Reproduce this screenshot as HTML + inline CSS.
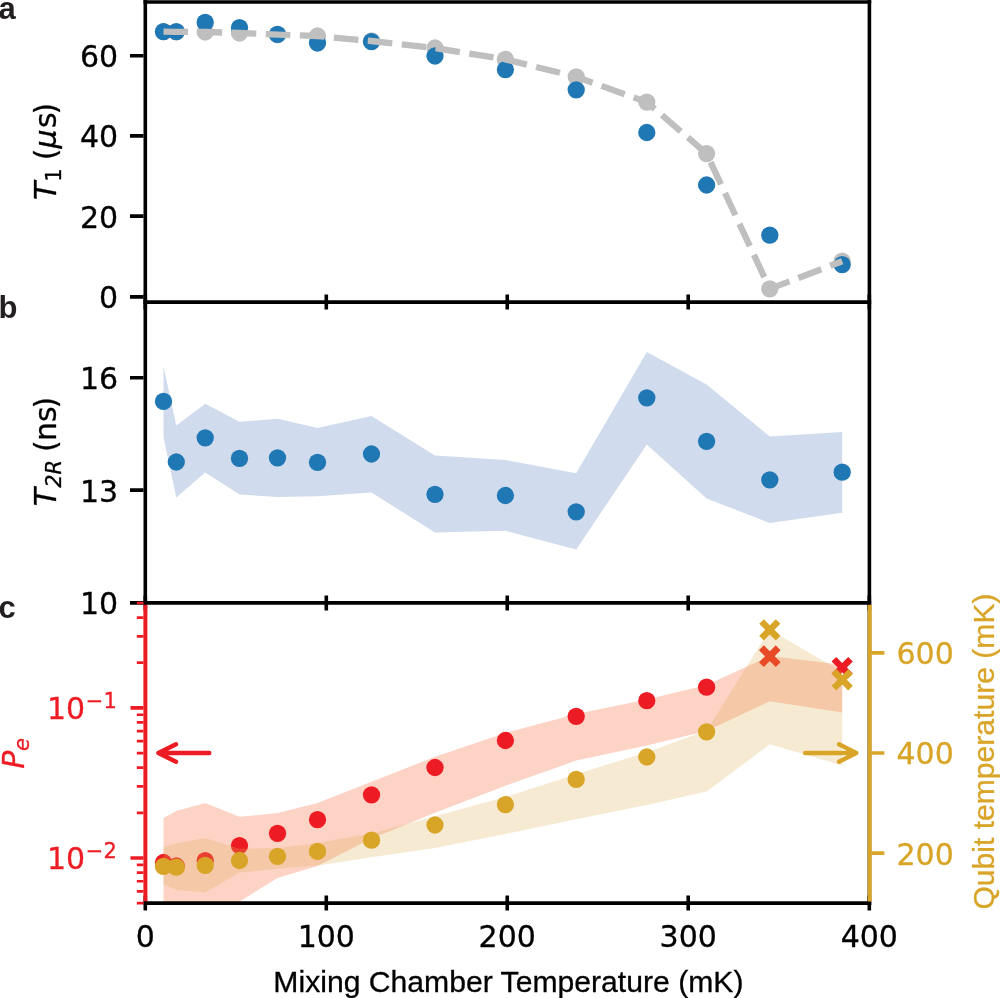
<!DOCTYPE html>
<html lang="en"><head><meta charset="utf-8"><title>Figure: qubit coherence versus mixing chamber temperature</title>
<style>
html,body{margin:0;padding:0;background:#fff;}
body{width:1000px;height:998px;overflow:hidden;}
svg{display:block;will-change:transform;transform:translateZ(0);}
.dv{font-family:"DejaVu Sans","Liberation Sans",sans-serif;}
.ar{font-family:"Liberation Sans","DejaVu Sans",sans-serif;}
.it{font-style:italic;}
</style></head><body>
<svg width="1000" height="998" viewBox="0 0 1000 998">
<rect width="1000" height="998" fill="#fff"/>
<defs>
<clipPath id="ca"><rect x="145.3" y="2.05" width="724.1" height="300.05"/></clipPath>
<clipPath id="cb"><rect x="145.3" y="302.1" width="724.1" height="300.8"/></clipPath>
<clipPath id="cc"><rect x="145.3" y="602.9" width="724.1" height="300.2"/></clipPath>
</defs>
<g clip-path="url(#ca)">
<g fill="#bfbfbf"><circle cx="163.5" cy="31.7" r="8.65"/><circle cx="176.3" cy="31.8" r="8.65"/><circle cx="205.2" cy="32" r="8.65"/><circle cx="239.5" cy="33" r="8.65"/><circle cx="277.5" cy="34.6" r="8.65"/><circle cx="317.5" cy="36" r="8.65"/><circle cx="371.5" cy="41" r="8.65"/><circle cx="435" cy="48" r="8.65"/><circle cx="505.4" cy="59.4" r="8.65"/><circle cx="576.2" cy="76.8" r="8.65"/><circle cx="646.8" cy="102.1" r="8.65"/><circle cx="706.6" cy="153.6" r="8.65"/><circle cx="769.8" cy="288.9" r="8.65"/><circle cx="842.2" cy="261.2" r="8.65"/></g>
<g fill="#1f77b4"><circle cx="163.5" cy="31.6" r="8.65"/><circle cx="176.3" cy="31.6" r="8.65"/><circle cx="205.2" cy="22.4" r="8.65"/><circle cx="239.5" cy="27.6" r="8.65"/><circle cx="277.5" cy="34.4" r="8.65"/><circle cx="317.5" cy="43" r="8.65"/><circle cx="371.5" cy="41.6" r="8.65"/><circle cx="435" cy="56" r="8.65"/><circle cx="505.4" cy="69.6" r="8.65"/><circle cx="576.2" cy="89.8" r="8.65"/><circle cx="646.8" cy="132.5" r="8.65"/><circle cx="706.6" cy="185" r="8.65"/><circle cx="769.8" cy="235.2" r="8.65"/><circle cx="842.2" cy="264.6" r="8.65"/></g>
<path d="M163.5,31.7 L176.3,31.8 L205.2,32 L239.5,33 L277.5,34.6 L317.5,36 L371.5,41 L435,48 L505.4,59.4 L576.2,76.8 L646.8,102.1 L706.6,153.6 L769.8,288.9 L842.2,261.2" fill="none" stroke="#bfbfbf" stroke-width="6.3" stroke-dasharray="24.6 9.5" stroke-linejoin="round"/>
</g>
<g clip-path="url(#cb)">
<path d="M163.5,366.3 L176.3,425.5 L205.2,403.8 L239.5,421.8 L277.5,418.8 L317.5,428 L371.5,416 L435,455.5 L505.4,460 L576.2,473.3 L646.8,352.1 L706.6,384.6 L769.8,436.6 L842.2,431.9 L842.2,512.8 L769.8,522.9 L706.6,498.5 L646.8,444.4 L576.2,549.5 L505.4,530.8 L435,532.5 L371.5,492.5 L317.5,496.3 L277.5,497 L239.5,494.5 L205.2,472.5 L176.3,497.5 L163.5,437.5Z" fill="#d0dbed"/>
<g fill="#1f77b4"><circle cx="163.5" cy="401.3" r="8.65"/><circle cx="176.3" cy="462" r="8.65"/><circle cx="205.2" cy="437.8" r="8.65"/><circle cx="239.5" cy="458.3" r="8.65"/><circle cx="277.5" cy="457.8" r="8.65"/><circle cx="317.5" cy="462.3" r="8.65"/><circle cx="371.5" cy="454" r="8.65"/><circle cx="435" cy="494.3" r="8.65"/><circle cx="505.4" cy="495.5" r="8.65"/><circle cx="576.2" cy="511.8" r="8.65"/><circle cx="646.8" cy="397.9" r="8.65"/><circle cx="706.6" cy="441.3" r="8.65"/><circle cx="769.8" cy="479.8" r="8.65"/><circle cx="842.2" cy="472.2" r="8.65"/></g>
</g>
<g clip-path="url(#cc)">
<path d="M163.5,818.1 L176.3,810.9 L205.2,802.9 L239.5,816.8 L277.5,813.1 L317.5,803 L371.5,781.8 L435,756.8 L505.4,732.9 L576.2,714 L646.8,699.6 L706.6,685 L769.8,656 L842.2,664.8 L842.2,712.6 L769.8,701.2 L706.6,731 L646.8,745.6 L576.2,760.6 L505.4,785.7 L435,812.7 L371.5,838.4 L317.5,866.1 L277.5,877.9 L239.5,901.5 L205.2,940 L176.3,950 L163.5,960Z" fill="#fdd3c6"/>
<g fill="#ed1c24"><circle cx="163.5" cy="862.5" r="8.65"/><circle cx="176.3" cy="866" r="8.65"/><circle cx="205.2" cy="860.6" r="8.65"/><circle cx="239.5" cy="845.6" r="8.65"/><circle cx="277.5" cy="833.3" r="8.65"/><circle cx="317.5" cy="819.7" r="8.65"/><circle cx="371.5" cy="794.8" r="8.65"/><circle cx="435" cy="767.5" r="8.65"/><circle cx="505.4" cy="740.5" r="8.65"/><circle cx="576.2" cy="716.3" r="8.65"/><circle cx="646.8" cy="700.7" r="8.65"/><circle cx="706.6" cy="687.2" r="8.65"/></g>
<path d="M769.8,651.6 L775.8,645.6 L780.4,650.2 L774.4,656.2 L780.4,662.2 L775.8,666.8 L769.8,660.8 L763.8,666.8 L759.2,662.2 L765.2,656.2 L759.2,650.2 L763.8,645.6Z M842.2,663 L848.2,657 L852.8,661.6 L846.8,667.6 L852.8,673.6 L848.2,678.2 L842.2,672.2 L836.2,678.2 L831.6,673.6 L837.6,667.6 L831.6,661.6 L836.2,657Z" fill="#ed1c24"/>
<path d="M163.5,846.9 L176.3,843.2 L205.2,837.9 L239.5,848.8 L277.5,848 L317.5,843 L371.5,833.6 L435,816.2 L505.4,797 L576.2,774.2 L646.8,752.2 L706.6,730.5 L769.8,629.8 L842.2,672 L842.2,765.4 L769.8,744.3 L706.6,791.6 L646.8,805 L576.2,819.3 L505.4,834 L435,847.9 L371.5,857.3 L317.5,865.5 L277.5,868.8 L239.5,872.5 L205.2,892.5 L176.3,890.1 L163.5,884.5Z" fill="#e0ae52" fill-opacity="0.26"/>
<path d="M769.8,651.6 L775.8,645.6 L780.4,650.2 L774.4,656.2 L780.4,662.2 L775.8,666.8 L769.8,660.8 L763.8,666.8 L759.2,662.2 L765.2,656.2 L759.2,650.2 L763.8,645.6Z" fill="#e94a26"/>
<g fill="#d9a528"><circle cx="163.5" cy="866.4" r="8.65"/><circle cx="176.3" cy="867.2" r="8.65"/><circle cx="205.2" cy="865.3" r="8.65"/><circle cx="239.5" cy="860.5" r="8.65"/><circle cx="277.5" cy="856.3" r="8.65"/><circle cx="317.5" cy="851.4" r="8.65"/><circle cx="371.5" cy="840.2" r="8.65"/><circle cx="435" cy="825" r="8.65"/><circle cx="505.4" cy="804.6" r="8.65"/><circle cx="576.2" cy="779.3" r="8.65"/><circle cx="646.8" cy="757" r="8.65"/><circle cx="706.6" cy="731.8" r="8.65"/></g>
<path d="M769.8,625.2 L775.8,619.2 L780.4,623.8 L774.4,629.8 L780.4,635.8 L775.8,640.4 L769.8,634.4 L763.8,640.4 L759.2,635.8 L765.2,629.8 L759.2,623.8 L763.8,619.2Z M842.2,675.2 L848.2,669.2 L852.8,673.8 L846.8,679.8 L852.8,685.8 L848.2,690.4 L842.2,684.4 L836.2,690.4 L831.6,685.8 L837.6,679.8 L831.6,673.8 L836.2,669.2Z" fill="#d9a528"/>
</g>
<g fill="none" stroke-width="4.4" stroke-linecap="round" stroke-linejoin="round">
<path d="M209.3,753 L158.4,753 M176,744.2 L158.4,753 L176,761.8" stroke="#ed1c24"/>
<path d="M805.2,753 L856.2,753 M839,744.3 L856.2,753 L839,761.7" stroke="#d9a528"/>
</g>
<g stroke="#000" stroke-width="3.6" fill="none" stroke-linecap="butt">
<path d="M145.3,604.7 V0 M869.4,904.9 V0"/>
<path d="M143.5,2.05 H871.2"/>
<path d="M143.5,302.1 H871.2"/>
<path d="M143.5,602.9 H871.2"/>
<path d="M143.5,903.1 H871.2"/>
<path d="M145.3,294.6 V309.6 M326.3,294.6 V309.6 M507.25,294.6 V309.6 M688.2,294.6 V309.6 M869.3,294.6 V309.6 M145.3,595.4 V610.4 M326.3,595.4 V610.4 M507.25,595.4 V610.4 M688.2,595.4 V610.4 M869.3,595.4 V610.4 M145.3,895.6 V910.6 M326.3,895.6 V910.6 M507.25,895.6 V910.6 M688.2,895.6 V910.6 M869.3,895.6 V910.6"/>
<path d="M143.5,55.7 H130 M143.5,135.9 H130 M143.5,216.15 H130 M143.5,296.85 H130 M143.5,377.7 H130 M143.5,490.1 H130 M143.5,602.9 H130"/>
</g>
<g stroke="#ed1c24" fill="none" stroke-linecap="butt">
<path d="M145.4,604.7 V901.3" stroke-width="4"/>
<path d="M143.5,707.9 H130.5 M143.5,858 H130.5" stroke-width="3.6"/>
<path d="M143.5,662.72 H136.8 M143.5,636.28 H136.8 M143.5,617.53 H136.8 M143.5,602.98 H136.8 M143.5,812.82 H136.8 M143.5,786.38 H136.8 M143.5,767.63 H136.8 M143.5,753.08 H136.8 M143.5,741.2 H136.8 M143.5,731.15 H136.8 M143.5,722.45 H136.8 M143.5,714.77 H136.8 M143.5,903.18 H136.8 M143.5,891.3 H136.8 M143.5,881.25 H136.8 M143.5,872.55 H136.8 M143.5,864.87 H136.8" stroke-width="2.7"/>
</g>
<g stroke="#d9a528" fill="none" stroke-linecap="butt">
<path d="M869.7,604.7 V901.5" stroke-width="4"/>
<path d="M871.2,652.9 H884.4 M871.2,753 H884.4 M871.2,853.1 H884.4" stroke-width="3.6"/>
</g>
<g class="ar" font-weight="bold" font-size="31" fill="#231f20">
<text x="-1.5" y="18.6">a</text><text x="-1.5" y="318.2">b</text><text x="-1.5" y="617.9">c</text>
</g>
<g class="dv" font-size="30" fill="#000" stroke="#000" stroke-width="0.3">
<g text-anchor="end">
<text x="118.2" y="67.1">60</text>
<text x="118.2" y="147.3">40</text>
<text x="118.2" y="227.55">20</text>
<text x="118.2" y="308.25">0</text>
<text x="118.2" y="389.1">16</text>
<text x="118.2" y="501.5">13</text>
<text x="118.2" y="614.3">10</text>
</g>
<g text-anchor="middle">
<text x="145.3" y="946.8">0</text>
<text x="326.3" y="946.8">100</text>
<text x="507.25" y="946.8">200</text>
<text x="688.2" y="946.8">300</text>
<text x="869.3" y="946.8">400</text>
</g>
<text transform="translate(55.7,200.0) rotate(-90)"><tspan class="it">T</tspan><tspan font-size="21" dy="4.9">1</tspan><tspan dy="-4.9" dx="-1.5"> (</tspan><tspan class="it">μ</tspan><tspan dx="1.5">s</tspan><tspan dx="-2.2">)</tspan></text>
<text transform="translate(55.7,506.2) rotate(-90)"><tspan class="it">T</tspan><tspan class="it" font-size="21" dy="4.9">2R</tspan><tspan dy="-4.9" dx="-1.7"> (</tspan><tspan dx="-0.7">ns</tspan><tspan dx="-2.2">)</tspan></text>
</g>
<g class="dv" font-size="30" fill="#ed1c24" stroke="#ed1c24" stroke-width="0.3">
<text x="47.0" y="719.2">10<tspan font-size="21" dy="-11.6" dx="0.6">−1</tspan></text>
<text x="47.0" y="869.3">10<tspan font-size="21" dy="-11.6" dx="0.6">−2</tspan></text>
<text transform="translate(24.2,768.8) rotate(-90)"><tspan class="it">P</tspan><tspan class="it" font-size="21" dy="4.9" dx="-0.3">e</tspan></text>
</g>
<g class="dv" font-size="30" fill="#d9a528" stroke="#d9a528" stroke-width="0.3">
<text x="896.5" y="664.3">600</text>
<text x="896.5" y="764.4">400</text>
<text x="896.5" y="864.5">200</text>
</g>
<text class="ar" font-size="30.1" fill="#d9a528" stroke="#d9a528" stroke-width="0.3" transform="translate(994,909.6) rotate(-90)">Qubit temperature (mK)</text>
<text class="ar" font-size="30.15" fill="#000" stroke="#000" stroke-width="0.3" x="508.4" y="991.6" text-anchor="middle">Mixing Chamber Temperature (mK)</text>
</svg>
</body></html>
